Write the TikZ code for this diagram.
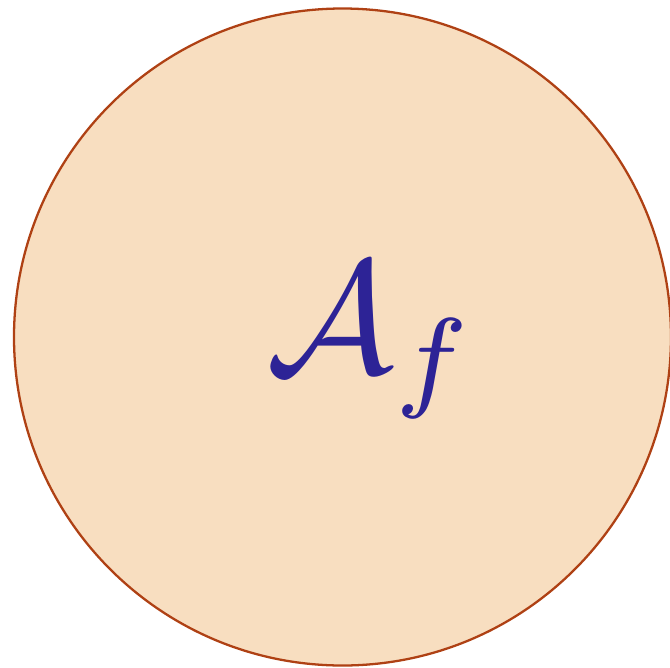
\documentclass[tikz,border=0pt]{standalone}
\definecolor{peach}{RGB}{248,222,192}
\definecolor{rust}{RGB}{175,65,20}
\definecolor{inkblue}{RGB}{45,35,150}
\begin{document}
\begin{tikzpicture}[x=0.02cm,y=-0.02cm]
\useasboundingbox (0,0) rectangle (670,667);
\node[circle,draw=rust,fill=peach,line width=1.3pt,minimum size=657*0.02cm,inner sep=0pt] (c) at (342.5,337) {};
\node[text=inkblue,scale=9.1,inner sep=0pt] (t) at (372,341) {$\mathcal{A}_{f}$};
\end{tikzpicture}
\end{document}
